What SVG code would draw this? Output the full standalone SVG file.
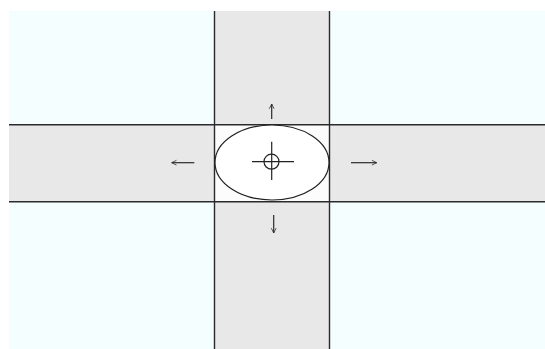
<svg xmlns="http://www.w3.org/2000/svg" width="545" height="349" viewBox="0 0 545 349">
<defs>
<style>
.edge{stroke:#2a2a2a;stroke-width:1.4;fill:none}
.arr{stroke:#2a2a2a;stroke-width:1.2;fill:none}
</style>
<marker id="head" viewBox="0 0 10 10" refX="9" refY="5" markerWidth="6" markerHeight="9" markerUnits="userSpaceOnUse" orient="auto">
<path d="M1,1 L9,5 L1,9" stroke="#2a2a2a" stroke-width="1.3" fill="none"/>
</marker>
</defs>
<rect width="545" height="349" fill="#ffffff"/>
<rect x="9" y="11" width="536" height="338" fill="#f5fefe"/>
<g id="bands">
<rect x="214" y="11" width="116" height="338" fill="#e8e8e8"/>
<rect x="9" y="125" width="536" height="77" fill="#e8e8e8"/>
<rect x="214" y="125" width="116" height="77" fill="#fcfcfc"/>
</g>
<g id="edges">
<line class="edge" x1="214.5" y1="11" x2="214.5" y2="349"/>
<line class="edge" x1="329.5" y1="11" x2="329.5" y2="349"/>
<line class="edge" x1="9" y1="124.7" x2="545" y2="124.7"/>
<line class="edge" x1="9" y1="201.7" x2="545" y2="201.7"/>
</g>
<g id="center">
<ellipse cx="272" cy="162.5" rx="57" ry="37.5" fill="#ffffff" stroke="#222" stroke-width="1.2"/>
<circle cx="271.5" cy="161.7" r="7.5" fill="none" stroke="#222" stroke-width="1.2"/>
<line x1="252" y1="161.7" x2="294" y2="161.7" stroke="#222" stroke-width="1.2"/>
<line x1="271.7" y1="141.7" x2="271.7" y2="180" stroke="#222" stroke-width="1.2"/>
</g>
<g id="connectors">
<line class="arr" x1="271.7" y1="119" x2="271.7" y2="104" marker-end="url(#head)"/>
<line class="arr" x1="273.7" y1="215" x2="273.7" y2="233" marker-end="url(#head)"/>
<line class="arr" x1="194.3" y1="162.7" x2="171.7" y2="162.7" marker-end="url(#head)"/>
<line class="arr" x1="351" y1="162.7" x2="376.7" y2="162.7" marker-end="url(#head)"/>
</g>
</svg>
